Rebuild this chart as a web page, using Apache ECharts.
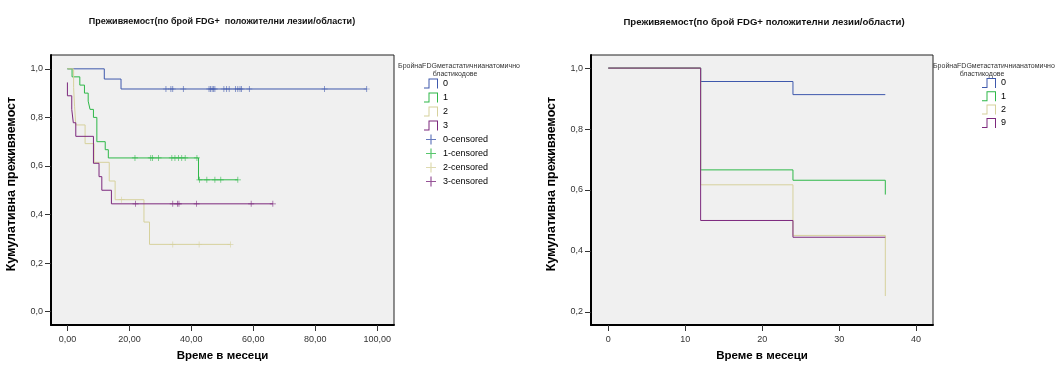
<!DOCTYPE html>
<html>
<head>
<meta charset="utf-8">
<script src="https://cdn.jsdelivr.net/npm/echarts@6/dist/echarts.min.js"></script>
<style>
  html, body { margin: 0; padding: 0; background: #fff; }
  #chart { width: 1057px; height: 367px; }
</style>
</head>
<body>
<div id="chart"></div>
<script>
// ---- texts ----
const titleLeft = 'Преживяемост(по брой FDG+  положителни лезии/области)';
const titleRight = 'Преживяемост(по брой FDG+ положителни лезии/области)';
const yName = 'Кумулативна преживяемост';
const xName = 'Време в месеци';
const legendHeadLine1 = 'БройнаFDGметастатичнианатомично';
const legendHeadLine2 = 'бластикодове';

// ---- tick labels ----
const leftXTicks = [0, 20, 40, 60, 80, 100];
const leftYTicks = [0, 0.2, 0.4, 0.6, 0.8, 1.0];
const rightXTicks = [0, 10, 20, 30, 40];
const rightYTicks = [0.2, 0.4, 0.6, 0.8, 1.0];

// ---- left panel: Kaplan–Meier steps [time, survival after the event] ----
const leftGroups = ['0', '1', '2', '3'];
const steps0 = [[0, 1], [11.9, 0.958], [17.3, 0.917]];
const steps1 = [[0, 1], [1.5, 0.967], [4.0, 0.933], [5.5, 0.9], [6.7, 0.867], [7.3, 0.833], [8.4, 0.8], [9.5, 0.7], [12.2, 0.667], [13.2, 0.633], [42.3, 0.543]];
const steps2 = [[0, 1], [2.0, 0.923], [2.3, 0.846], [2.7, 0.769], [5.7, 0.692], [8.6, 0.615], [13.5, 0.538], [15.4, 0.461], [24.7, 0.369], [26.5, 0.277]];
const steps3 = [[0, 0.944], [0, 0.889], [1.4, 0.833], [1.9, 0.778], [2.7, 0.722], [8.4, 0.611], [10.2, 0.556], [11.1, 0.5], [14.2, 0.444]];

// censored follow-up times
const censor0 = [31.8, 33.4, 34.0, 37.4, 45.7, 46.2, 46.7, 47.2, 47.6, 50.5, 51.4, 52.2, 54.2, 55.0, 55.7, 56.2, 58.7, 83.0, 96.6];
const censor1 = [21.8, 26.9, 27.5, 29.4, 33.7, 34.7, 35.8, 36.9, 38.0, 41.8, 42.6, 45.0, 47.6, 49.5, 55.0];
const censor2 = [17.5, 34.0, 42.5, 52.6];
const censor3 = [22.0, 34.0, 35.5, 36.0, 41.7, 59.3, 66.3];

// ---- right panel ----
const rightGroups = ['0', '1', '2', '9'];
const rsteps0 = [[0, 1], [12, 0.956], [24, 0.913], [36, 0.913]];
const rsteps1 = [[0, 1], [12, 0.666], [24, 0.632], [36, 0.585]];
const rsteps2 = [[0, 1], [12, 0.617], [24, 0.451], [36, 0.252]];
const rsteps9 = [[0, 1], [12, 0.5], [24, 0.445], [36, 0.445]];

// ---- styling ----
const colors = ['#3e58ac', '#2eb848', '#d6d19c', '#7c287d'];
const FONT = '"Liberation Sans", Arial, sans-serif';
const plusPath = 'path://M-0.12,-1H0.12V-0.12H1V0.12H0.12V1H-0.12V0.12H-1V-0.12H-0.12Z';
const stepPath = 'path://M0,9H4.5V0H14V10H13V1H5.5V10H0Z';

function survivalAt(steps, t) {
  let s = steps[0][1];
  for (const [time, val] of steps) { if (time <= t) s = val; }
  return s;
}
function curve(steps, censor) {
  const last = censor[censor.length - 1];
  return steps.concat([[last, survivalAt(steps, last)]]);
}
function marks(steps, censor) {
  return censor.map(t => [t, survivalAt(steps, t)]);
}
const comma = (v, d) => v.toFixed(d).replace('.', ',');

const leftSteps = [steps0, steps1, steps2, steps3];
const leftCensor = [censor0, censor1, censor2, censor3];
const rightSteps = [rsteps0, rsteps1, rsteps2, rsteps9];

const series = [];
leftGroups.forEach((g, i) => {
  series.push({
    name: g, type: 'line', step: 'end', xAxisIndex: 0, yAxisIndex: 0,
    data: curve(leftSteps[i], leftCensor[i]),
    symbol: 'none', showSymbol: false,
    lineStyle: { color: colors[i], width: 1 }, itemStyle: { color: colors[i] },
    silent: true, z: 2 + i
  });
});
leftGroups.forEach((g, i) => {
  series.push({
    name: g + '-censored', type: 'scatter', xAxisIndex: 0, yAxisIndex: 0,
    data: marks(leftSteps[i], leftCensor[i]),
    symbol: plusPath, symbolSize: 6,
    itemStyle: { color: colors[i] }, silent: true, z: 2 + i
  });
});
rightGroups.forEach((g, i) => {
  series.push({
    name: g, type: 'line', step: 'end', xAxisIndex: 1, yAxisIndex: 1,
    data: rightSteps[i],
    symbol: 'none', showSymbol: false,
    lineStyle: { color: colors[i], width: 1 }, itemStyle: { color: colors[i] },
    silent: true, z: 2 + i
  });
});

function xAxisCfg(gridIndex, min, max, ticks, fmt) {
  return {
    type: 'value', gridIndex, min, max,
    name: xName, nameLocation: 'middle', nameGap: 25,
    nameTextStyle: { fontFamily: FONT, fontSize: 11.5, fontWeight: 'bold', color: '#000' },
    axisLine: { show: true, onZero: false, lineStyle: { color: '#000', width: 2 } },
    axisTick: { show: true, length: 6, customValues: ticks, lineStyle: { color: '#333', width: 1 } },
    axisLabel: { customValues: ticks, margin: 10, fontFamily: FONT, fontSize: 9, color: '#333', formatter: fmt },
    splitLine: { show: false }
  };
}
function yAxisCfg(gridIndex, min, max, ticks) {
  return {
    type: 'value', gridIndex, min, max,
    name: yName, nameLocation: 'middle', nameGap: 33, nameRotate: 90,
    nameTextStyle: { fontFamily: FONT, fontSize: 12.5, fontWeight: 'bold', color: '#000', padding: [0, 0, 0, 12] },
    axisLine: { show: true, onZero: false, lineStyle: { color: '#000', width: 2 } },
    axisTick: { show: true, length: 6, customValues: ticks, lineStyle: { color: '#333', width: 1 } },
    axisLabel: { customValues: ticks, margin: 8, fontFamily: FONT, fontSize: 9, color: '#333', formatter: v => comma(v, 1) },
    splitLine: { show: false }
  };
}

const headStyle = { fontFamily: FONT, fontSize: 7, fontWeight: 'normal', color: '#333' };
const titleStyle = { fontFamily: FONT, fontSize: 9, fontWeight: 'bold', color: '#111' };
const titleStyleRight = { fontFamily: FONT, fontSize: 9.6, fontWeight: 'bold', color: '#111' };

const option = {
  animation: false,
  backgroundColor: '#fff',
  title: [
    { text: titleLeft, left: 222, top: 17, textAlign: 'center', padding: 0, textStyle: titleStyle },
    { text: titleRight, left: 764, top: 17, textAlign: 'center', padding: 0, textStyle: titleStyleRight },
    { text: legendHeadLine1, left: 459, top: 62.5, textAlign: 'center', padding: 0, textStyle: headStyle },
    { text: legendHeadLine2, left: 455, top: 70.5, textAlign: 'center', padding: 0, textStyle: headStyle },
    { text: legendHeadLine1, left: 933, top: 62.5, padding: 0, textStyle: headStyle },
    { text: legendHeadLine2, left: 982, top: 70.5, textAlign: 'center', padding: 0, textStyle: headStyle }
  ],
  grid: [
    { left: 51, top: 55, width: 343, height: 273, show: true, backgroundColor: '#f0f0f0', borderColor: '#222', borderWidth: 1 },
    { left: 591, top: 55, width: 342, height: 273, show: true, backgroundColor: '#f0f0f0', borderColor: '#222', borderWidth: 1 }
  ],
  xAxis: [
    xAxisCfg(0, -5.3, 105.4, leftXTicks, v => comma(v, 2)),
    xAxisCfg(1, -2.25, 42.2, rightXTicks, v => String(v))
  ],
  yAxis: [
    yAxisCfg(0, -0.055, 1.057, leftYTicks),
    yAxisCfg(1, 0.157, 1.043, rightYTicks)
  ],
  legend: [
    {
      orient: 'vertical', left: 424, top: 78.5, padding: 0, itemGap: 4,
      itemWidth: 14, itemHeight: 10, selectedMode: false,
      itemStyle: { borderWidth: 0 },
      textStyle: { fontFamily: FONT, fontSize: 9, color: '#000' },
      data: leftGroups.map(g => ({ name: g, icon: stepPath }))
        .concat(leftGroups.map(g => ({ name: g + '-censored', icon: plusPath })))
    },
    {
      orient: 'vertical', left: 982, top: 78, padding: 0, itemGap: 3.3,
      itemWidth: 14, itemHeight: 10, selectedMode: false,
      itemStyle: { borderWidth: 0 },
      textStyle: { fontFamily: FONT, fontSize: 9, color: '#000' },
      data: rightGroups.map(g => ({ name: g, icon: stepPath }))
    }
  ],
  series
};

const chart = echarts.init(document.getElementById('chart'), null, { renderer: 'canvas' });
chart.setOption(option);
</script>
</body>
</html>
